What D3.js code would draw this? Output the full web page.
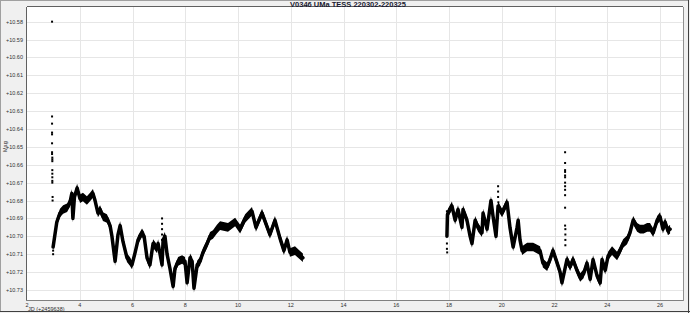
<!DOCTYPE html>
<html><head><meta charset="utf-8">
<script src="https://cdn.jsdelivr.net/npm/d3@7"></script>
<style>
html,body{margin:0;padding:0;background:#f0f0f0;}
svg{display:block;font-family:"Liberation Sans",Arial,sans-serif;}
</style></head>
<body><svg id="c" width="690" height="313"></svg>
<script>
const title = "V0346 UMa TESS 220302-220325";
const xLabel = "JD (+2459638)";
const yLabel = "Mag";
const xTicks = [2,4,6,8,10,12,14,16,18,20,22,24,26];
const yTicks = [10.58,10.59,10.60,10.61,10.62,10.63,10.64,10.65,10.66,10.67,10.68,10.69,10.70,10.71,10.72,10.73];

// light-curve band, segment 1 (time, mag)
const seg1T = [2.99,3.05,3.13,3.25,3.37,3.52,3.63,3.70,3.74,3.80,3.90,4.01,4.12,4.27,4.39,4.50,4.58,4.69,4.77,4.88,5.03,5.15,5.22,5.34,5.45,5.53,5.64,5.79,5.90,5.98,6.10,6.21,6.36,6.44,6.55,6.66,6.78,6.93,6.97,7.12,7.16,7.23,7.31,7.42,7.54,7.61,7.73,7.88,7.99,8.07,8.18,8.26,8.33,8.45,8.56,8.67,8.83,8.94,9.05,9.20,9.32,9.62,9.89,10.08,10.27,10.53,10.68,10.91,11.06,11.21,11.40,11.59,11.74,11.86,11.97,12.16,12.31,12.46];
const seg1M = [10.706,10.700,10.692,10.687,10.685,10.684,10.681,10.676,10.690,10.678,10.673,10.679,10.678,10.680,10.678,10.676,10.680,10.687,10.685,10.689,10.690,10.694,10.700,10.714,10.699,10.694,10.703,10.712,10.714,10.716,10.709,10.702,10.698,10.700,10.712,10.716,10.704,10.707,10.704,10.716,10.702,10.700,10.710,10.718,10.728,10.718,10.714,10.713,10.714,10.726,10.712,10.714,10.729,10.716,10.714,10.709,10.704,10.700,10.699,10.696,10.694,10.695,10.692,10.696,10.690,10.686,10.695,10.687,10.693,10.699,10.691,10.701,10.708,10.702,10.709,10.708,10.710,10.712];
// segment 2
const seg2T = [17.92,17.94,17.96,18.11,18.23,18.34,18.49,18.53,18.68,18.80,18.87,18.99,19.10,19.25,19.29,19.44,19.59,19.67,19.78,19.86,20.01,20.20,20.31,20.43,20.58,20.62,20.69,20.77,20.96,21.19,21.45,21.56,21.72,21.83,21.94,22.10,22.21,22.28,22.47,22.59,22.70,22.85,22.97,23.10,23.23,23.35,23.46,23.61,23.73,23.80,23.92,24.03,24.18,24.37,24.48,24.60,24.75,24.86,24.98,25.13,25.24,25.38,25.51,25.62,25.74,25.89,26.00,26.11,26.19,26.30,26.38];
const seg2M = [10.700,10.688,10.687,10.683,10.691,10.685,10.695,10.685,10.691,10.700,10.704,10.691,10.695,10.698,10.687,10.696,10.680,10.689,10.700,10.683,10.687,10.681,10.695,10.706,10.695,10.691,10.702,10.708,10.706,10.706,10.708,10.715,10.717,10.713,10.708,10.715,10.720,10.726,10.713,10.717,10.713,10.719,10.723,10.721,10.715,10.724,10.713,10.722,10.726,10.713,10.719,10.711,10.708,10.711,10.708,10.704,10.702,10.698,10.691,10.695,10.696,10.696,10.695,10.695,10.698,10.691,10.689,10.696,10.692,10.697,10.696];
// half-width of the scatter band (mag)
const bandHalf = 0.0024;

// isolated points (outliers / streaks)
const outT = [2.95,2.95,2.95,2.95,2.95,2.95,2.95,2.95,2.96,2.96,2.96,2.96,2.96,2.96,2.96,2.96,2.97,2.97,2.99,2.99,2.99,
  7.12,7.12,7.12,7.12,7.12,
  19.86,19.86,19.86,19.87,
  22.40,22.40,22.40,22.40,22.40,22.40,22.40,22.40,22.40,22.40,22.40,22.40,22.41,22.41,22.41,22.41,
  17.92,17.92,17.92,17.93];
const outM = [10.580,10.633,10.637,10.642,10.643,10.648,10.653,10.654,10.657,10.656,10.658,10.663,10.665,10.667,10.669,10.670,10.678,10.680,10.704,10.708,10.710,
  10.690,10.693,10.696,10.699,10.702,
  10.672,10.675,10.678,10.681,
  10.653,10.659,10.663,10.664,10.666,10.667,10.670,10.672,10.674,10.677,10.684,10.694,10.696,10.699,10.702,10.705,
  10.686,10.704,10.707,10.709];

const svg = d3.select("#c");
const W = 690, H = 313;
const L = 27, R = 683, T = 7, B = 300;

// outer border
svg.append("rect").attr("x",0.5).attr("y",0.5).attr("width",W-2).attr("height",H-2)
  .attr("fill","#f0f0f0").attr("stroke","#a0a0a0");
svg.append("line").attr("x1",0).attr("x2",W).attr("y1",H-1.5).attr("y2",H-1.5).attr("stroke","#404040");
svg.append("line").attr("x1",W-1.5).attr("x2",W-1.5).attr("y1",0).attr("y2",H).attr("stroke","#404040");

const x = d3.scaleLinear().domain([2, 26.87]).range([L, R]);
const y = d3.scaleLinear().domain([10.5718, 10.7356]).range([T, B]);

// plot area
svg.append("rect").attr("x",L).attr("y",T).attr("width",R-L).attr("height",B-T).attr("fill","#ffffff");

// grid
const g = svg.append("g");
g.selectAll(".gx").data(xTicks.slice(1)).enter().append("line")
  .attr("x1",d=>Math.round(x(d))+0.5).attr("x2",d=>Math.round(x(d))+0.5)
  .attr("y1",T).attr("y2",B).attr("stroke","#e6e6e6").attr("stroke-width",1);
g.selectAll(".gy").data(yTicks).enter().append("line")
  .attr("x1",L).attr("x2",R)
  .attr("y1",d=>Math.round(y(d))+0.5).attr("y2",d=>Math.round(y(d))+0.5)
  .attr("stroke","#e6e6e6").attr("stroke-width",1);

// frame
svg.append("line").attr("x1",L-0.5).attr("x2",L-0.5).attr("y1",T).attr("y2",B+1).attr("stroke","#606060");
svg.append("line").attr("x1",L).attr("x2",R).attr("y1",T-0.5).attr("y2",T-0.5).attr("stroke","#606060");
svg.append("line").attr("x1",L-1).attr("x2",R+1).attr("y1",B+0.5).attr("y2",B+0.5).attr("stroke","#808080");
svg.append("line").attr("x1",R+0.5).attr("x2",R+0.5).attr("y1",T).attr("y2",B+1).attr("stroke","#909090");

// data band
const s1 = seg1T.map((t,i)=>[t,seg1M[i]]);
const s2 = seg2T.map((t,i)=>[t,seg2M[i]]);
const area = d3.area().x(d=>x(d[0])).y0(d=>y(d[1]-bandHalf)).y1(d=>y(d[1]+bandHalf));
const line = d3.line().x(d=>x(d[0])).y(d=>y(d[1]));
[s1,s2].forEach(s=>{
  svg.append("path").attr("d",area(s)).attr("fill","#000");
  svg.append("path").attr("d",line(s)).attr("fill","none").attr("stroke","#000")
    .attr("stroke-width",3.5).attr("stroke-linejoin","round").attr("stroke-linecap","round");
});

svg.append("g").selectAll("rect.o").data(outT.map((t,i)=>[t,outM[i]])).enter().append("rect")
  .attr("x",d=>x(d[0])-1).attr("y",d=>y(d[1])-1).attr("width",2).attr("height",2).attr("fill","#000");

// y tick labels
svg.append("g").selectAll("text").data(yTicks).enter().append("text")
  .attr("x",L-4).attr("y",d=>y(d)+2).attr("text-anchor","end")
  .attr("font-size",5.5).attr("fill","#303030")
  .text(d=>"+"+d.toFixed(2));
// x tick labels
svg.append("g").selectAll("text").data(xTicks).enter().append("text")
  .attr("x",d=>x(d)).attr("y",B+6.5).attr("text-anchor","middle")
  .attr("font-size",5.5).attr("fill","#303030").text(d=>d);

// axis titles
svg.append("text").attr("x",28).attr("y",310.5).attr("font-size",5.5).attr("fill","#303030").text(xLabel);
svg.append("text").attr("transform","translate(7,152) rotate(-90)").attr("font-size",5.5)
  .attr("fill","#303030").text(yLabel);

// title
svg.append("text").attr("x",348).attr("y",6.5).attr("text-anchor","middle")
  .attr("font-size",7.5).attr("font-weight","bold").attr("fill","#1a1a30").text(title);
</script></body></html>
